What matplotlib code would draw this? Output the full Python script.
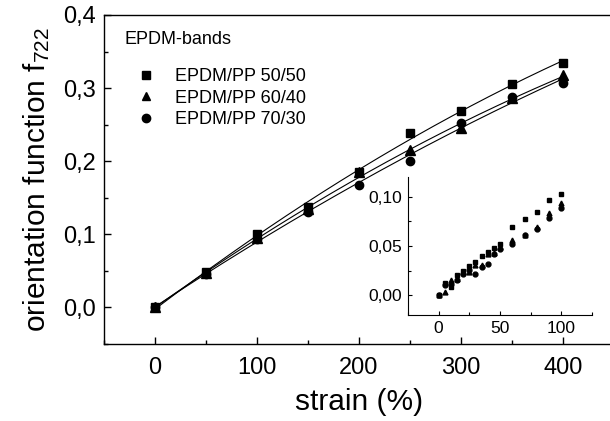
import numpy as np
import matplotlib
matplotlib.use("Agg")
import matplotlib.pyplot as plt
from matplotlib.ticker import MultipleLocator, FuncFormatter
from matplotlib.lines import Line2D

plt.rcParams['font.family'] = ['Liberation Sans', 'DejaVu Sans']
plt.rcParams['mathtext.default'] = 'regular'

# ---- main data ----
strain = [0, 50, 100, 150, 200, 250, 300, 350, 400]
f_50_50 = [0.000, 0.048, 0.100, 0.138, 0.185, 0.239, 0.269, 0.305, 0.335]
f_60_40 = [0.000, 0.047, 0.095, 0.135, 0.185, 0.216, 0.245, 0.286, 0.318]
f_70_30 = [0.000, 0.046, 0.094, 0.131, 0.168, 0.200, 0.252, 0.288, 0.307]

# ---- inset data ----
strain_in = [0, 5, 10, 15, 20, 25, 30, 35, 40, 45, 50, 60, 70, 80, 90, 100]
fi_50_50 = [0.000, 0.012, 0.008, 0.021, 0.025, 0.030, 0.034, 0.040, 0.044, 0.048, 0.052, 0.069, 0.077, 0.084, 0.097, 0.103]
fi_60_40 = [0.000, 0.003, 0.016, 0.017, 0.024, 0.024, 0.031, 0.031, 0.042, 0.043, 0.049, 0.056, 0.061, 0.069, 0.083, 0.094]
fi_70_30 = [0.000, 0.010, 0.011, 0.016, 0.022, 0.026, 0.022, 0.029, 0.032, 0.042, 0.047, 0.052, 0.061, 0.067, 0.078, 0.089]

labels = ['EPDM/PP 50/50', 'EPDM/PP 60/40', 'EPDM/PP 70/30']
markers = ['s', '^', 'o']

W, H = 610, 421
fig = plt.figure(figsize=(W / 100, H / 100), dpi=100)

def fpos(l, t, r, b):
    return [l / W, 1 - b / H, (r - l) / W, (b - t) / H]

comma = lambda nd: FuncFormatter(lambda v, p: f"{v:.{nd}f}".replace('.', ','))

ax = fig.add_axes(fpos(104, 15, 614, 344))
ax.set_xlim(-50, 450)
ax.set_ylim(-0.05, 0.4)
for s in ax.spines.values():
    s.set_linewidth(1.0)

series = [f_50_50, f_60_40, f_70_30]
xs = np.array(strain, dtype=float)
xfit = np.linspace(0, 400, 200)
for ys, m, lab in zip(series, markers, labels):
    coef = np.polyfit(xs, np.array(ys), 2)
    ax.plot(xfit, np.polyval(coef, xfit), color='black', lw=0.8, zorder=2)
    ax.plot(strain, ys, linestyle='none', marker=m, color='black',
            markersize=6.5 if m == '^' else 6, zorder=3, label=lab)

ax.xaxis.set_major_locator(MultipleLocator(100))
ax.xaxis.set_minor_locator(MultipleLocator(50))
ax.yaxis.set_major_locator(MultipleLocator(0.1))
ax.yaxis.set_minor_locator(MultipleLocator(0.05))
ax.yaxis.set_major_formatter(comma(1))
ax.tick_params(which='both', direction='in', top=False, right=False, labelsize=17)
ax.tick_params(which='major', length=5, width=1, pad=6)
ax.tick_params(axis='x', which='major', pad=9)
ax.tick_params(which='minor', length=3, width=1)

ax.set_xlabel('strain (%)', fontsize=21.5, labelpad=7)
ax.set_ylabel('orientation function f$_{722}$', fontsize=21.5, labelpad=8)

ax.text(125 / W, 1 - 40 / H, 'EPDM-bands', transform=fig.transFigure,
        fontsize=13, ha='left', va='center')
handles = [Line2D([], [], linestyle='none', marker=m, color='black', markersize=6)
           for m in markers]
ax.legend(handles, labels, loc='upper left', bbox_to_anchor=(137 / W, 1 - 68 / H),
          bbox_transform=fig.transFigure, frameon=False, fontsize=13,
          handlelength=1.0, handletextpad=1.1, labelspacing=0.25,
          borderpad=0, borderaxespad=0)

# ---- inset ----
axi = fig.add_axes(fpos(408, 177, 592, 315))
axi.set_xlim(-25, 125)
axi.set_ylim(-0.02, 0.12)
axi.spines['top'].set_visible(False)
axi.spines['right'].set_visible(False)
for s in ['left', 'bottom']:
    axi.spines[s].set_linewidth(0.8)
axi.patch.set_alpha(0)
for ys, m in zip([fi_50_50, fi_60_40, fi_70_30], markers):
    axi.plot(strain_in, ys, linestyle='none', marker=m, color='black', markersize=3.5)
axi.xaxis.set_major_locator(MultipleLocator(50))
axi.xaxis.set_minor_locator(MultipleLocator(25))
axi.yaxis.set_major_locator(MultipleLocator(0.05))
axi.yaxis.set_minor_locator(MultipleLocator(0.025))
axi.yaxis.set_major_formatter(comma(2))
axi.tick_params(which='both', direction='in', top=False, right=False, labelsize=12.5)
axi.tick_params(which='major', length=3, width=0.8, pad=4)
axi.tick_params(which='minor', length=2, width=0.8)

fig.savefig('out.png', dpi=100)
